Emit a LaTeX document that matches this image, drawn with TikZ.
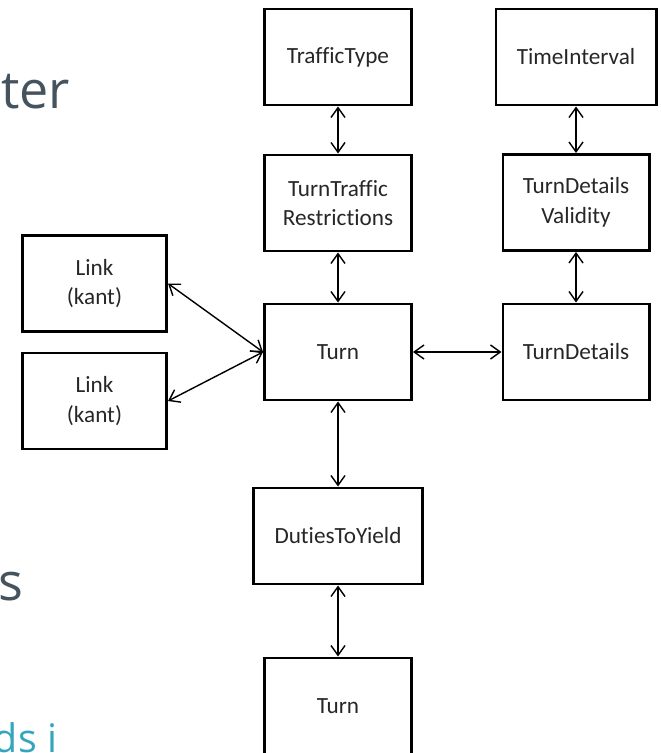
\documentclass[tikz,border=0pt]{standalone}
\usepackage{fontspec}
\setmainfont{Carlito}[Ligatures=NoCommon]
\newfontfamily\slidefont{Open Sans}
\usetikzlibrary{arrows.meta}
\definecolor{slidegray}{HTML}{44535D}
\definecolor{slideteal}{HTML}{33A6BE}

\begin{document}
\begin{tikzpicture}[
  x=0.025cm, y=-0.025cm,
  box/.style={draw, line width=2.1pt, minimum width=#1, minimum height=2.4cm,
              align=center, text=black!85, font=\fontsize{16.5}{21}\selectfont},
  box/.default=3.675cm,
  slide/.style={text=slidegray, font=\slidefont\fontsize{37}{42}\selectfont},
  arr/.style={<->, line width=1pt, >={Straight Barb[length=7pt,width=10pt]}}
]
  \useasboundingbox (0,0) rectangle (660,753);

  %-- Texte de la diapositive
  \node[slide, anchor=base east]  (ter) at (75,109)  {ter};
  \node[slide, anchor=base east]  (s)   at (28,600)  {s};
  \node[slide, anchor=base east, text=slideteal, font=\slidefont\fontsize{28}{32}\selectfont]
                                   (dsi) at (62,752)  {ds i};

  %-- Colonne Turn
  \node[box]          (ttype)  at (338, 57)    {TrafficType};
  \node[box]          (ttr)    at (338, 203)   {TurnTraffic\\Restrictions};
  \node[box]          (turn)   at (338, 352)   {Turn};
  \node[box=4.225cm]  (duties) at (338, 536)   {DutiesToYield};
  \node[box]          (turnb)  at (338, 706)   {Turn};

  %-- Colonne TurnDetails
  \node[box=4cm]      (tint)   at (576, 57)    {TimeInterval};
  \node[box=3.65cm]   (tdv)    at (576, 202.5) {TurnDetails\\Validity};
  \node[box=3.65cm]   (tdet)   at (576, 352)   {TurnDetails};

  %-- Liens
  \node[box=3.6cm]    (linka)  at (94.5, 283.5) {Link\\(kant)};
  \node[box=3.6cm]    (linkb)  at (94.5, 401)   {Link\\(kant)};

  %-- Flèches
  \draw[arr] (ttype)  -- (ttr);
  \draw[arr] (ttr)    -- (turn);
  \draw[arr] (turn)   -- (duties);
  \draw[arr] (duties) -- (turnb);
  \draw[arr] (tint)   -- (tdv);
  \draw[arr] (tdv)    -- (tdet);
  \draw[arr] (turn)   -- (tdet);
  \draw[arr] (linka.east) -- (turn.west);
  \draw[arr] (linkb.east) -- (turn.west);
\end{tikzpicture}
\end{document}
